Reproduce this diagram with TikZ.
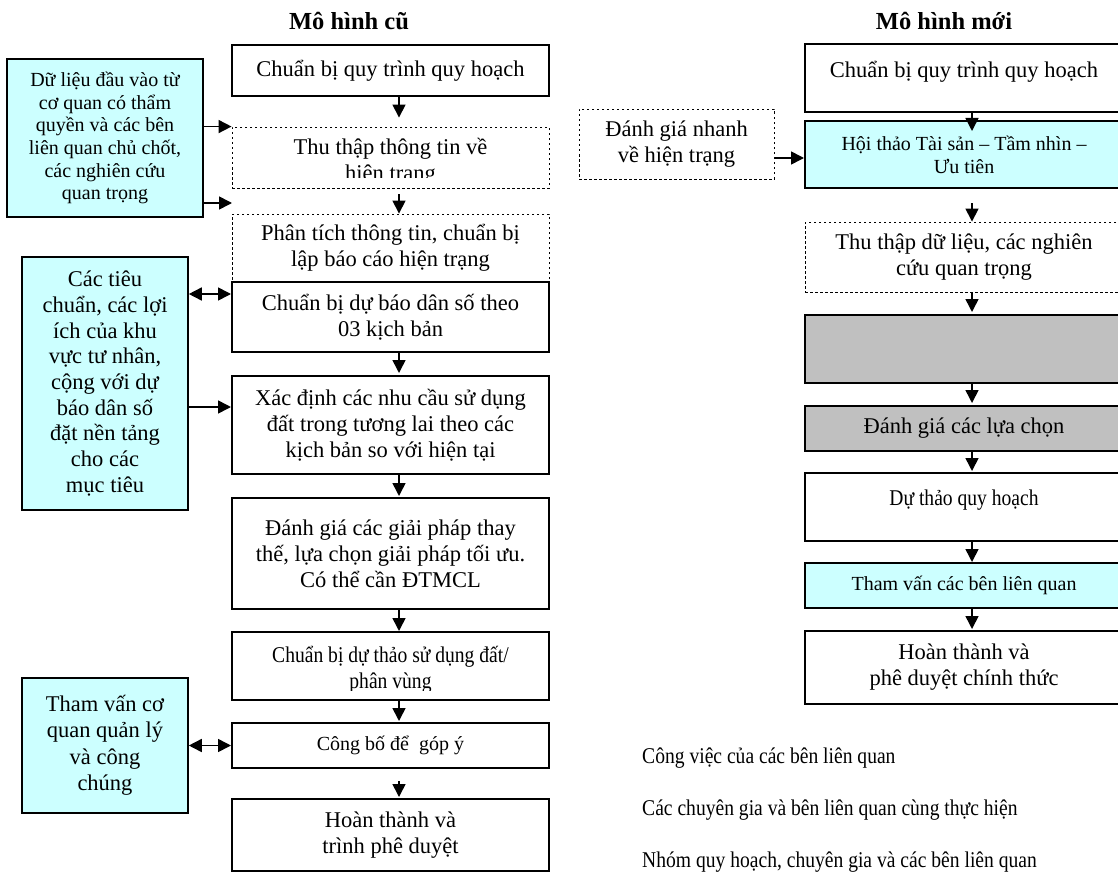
\documentclass[tikz,border=0pt]{standalone}
\usepackage{fontspec}
\setmainfont{Liberation Serif}
\newfontfamily\narrowserif[FakeStretch=0.87]{Liberation Serif}
\usetikzlibrary{arrows.meta}
\definecolor{paleblue}{HTML}{CCFFFF}
\definecolor{midgray}{HTML}{C0C0C0}
\begin{document}
\begin{tikzpicture}[x=1pt, y=-1pt, >={Triangle[width=13pt,length=13pt]}, font=\fontsize{22.5}{26}\selectfont]
		\tikzset{box/.style={draw, line width=2pt, align=center, inner sep=0pt, minimum width=317pt},
			dotbox/.style={box, line width=0.9pt, dash pattern=on 2.5pt off 2.5pt},
			blue box/.style={box, line width=1.6pt, fill=paleblue},
			gray box/.style={box, fill=midgray},
			small/.style={font=\fontsize{20}{23}\selectfont},
			narrow/.style={font=\narrowserif\fontsize{22.5}{26}\selectfont},
			boxtext/.style={align=center, inner sep=0pt},
			flow/.style={line width=1.6pt, ->}}
		\useasboundingbox (0,0) rectangle (1118,872);
		\node[font=\bfseries\fontsize{24.5}{28}\selectfont] (oldtitle) at (349,21) {Mô hình cũ};
		\node[font=\bfseries\fontsize{24.5}{28}\selectfont] (newtitle) at (944,21) {Mô hình mới};
		% old model
		\node[box, minimum height=51pt] (a1) at (390.5,70.5) {Chuẩn bị quy trình quy hoạch};
		\node[dotbox, minimum height=61pt] (a2) at (390.5,157.5) {};
		\begin{scope}
			\clip (232,127) rectangle (549,177);
			\node[boxtext] (a2text) at (390.5,162) {Thu thập thông tin về\\hiện trạng};
		\end{scope}
		\node[dotbox, minimum height=68pt] (a3) at (390.5,248) {Phân tích thông tin, chuẩn bị\\lập báo cáo hiện trạng};
		\node[box, fill=white, minimum height=70pt] (a4) at (390.5,317) {Chuẩn bị dự báo dân số theo\\03 kịch bản};
		\node[box, minimum height=98pt] (a5) at (390.5,425) {Xác định các nhu cầu sử dụng\\đất trong tương lai theo các\\kịch bản so với hiện tại};
		\node[box, minimum height=111pt] (a6) at (390.5,553.5) {Đánh giá các giải pháp thay\\thế, lựa chọn giải pháp tối ưu.\\Có thể cần ĐTMCL};
		\node[box, minimum height=68pt] (a7) at (390.5,666) {};
		\begin{scope}
			\clip (232,632) rectangle (549,690);
			\node[boxtext, narrow] (a7text) at (390.5,669.5) {Chuẩn bị dự thảo sử dụng đất/\\phân vùng};
		\end{scope}
		\node[box, small, minimum height=45pt] (a8) at (390.5,745.5) {Công bố để~ góp ý};
		\node[box, minimum height=72pt] (a9) at (390.5,835) {Hoàn thành và\\trình phê duyệt};
		\node[blue box, font=\fontsize{20}{22.7}\selectfont, minimum width=196pt, minimum height=158pt] (b1) at (105,138) {Dữ liệu đầu vào từ\\cơ quan có thẩm\\quyền và các bên\\liên quan chủ chốt,\\các nghiên cứu\\quan trọng};
		\node[blue box, font=\fontsize{22.5}{25.7}\selectfont, minimum width=166pt, minimum height=253pt] (b2) at (105,383.5) {Các tiêu\\chuẩn, các lợi\\ích của khu\\vực tư nhân,\\cộng với dự\\báo dân số\\đặt nền tảng\\cho các\\mục tiêu};
		\node[blue box, font=\fontsize{22.5}{26.5}\selectfont, minimum width=166pt, minimum height=135pt] (b3) at (105,745.5) {Tham vấn cơ\\quan quản lý\\và công\\chúng};
		\coordinate (ax) at (399,0);
		\coordinate (gap) at (232,203);
		\foreach \p/\q/\s/\e in {a1/a2/0/9, a2/a3/6/0, a4/a5/0/2, a5/a6/0/1, a6/a7/0/0, a7/a8/0/1, a8/a9/12/1}
		\draw[flow, shorten <=\s pt, shorten >=\e pt] (\p.south -| ax) -- (\q.north -| ax);
		\draw[flow] (b1.east |- a2.north) -- (a2.north west);
		\draw[flow] (b1.east |- gap) -- (gap);
		\draw[flow, <->] (b2.east |- 0,294) -- (a4.west |- 0,294);
		\draw[flow] (b2.east |- 0,407) -- (a5.west |- 0,407);
		\draw[flow, <->] (b3.east) -- (a8.west);
		% new model
		\node[box, minimum width=318pt, minimum height=68pt] (c1) at (964,78) {Chuẩn bị quy trình quy hoạch\\[-8pt]\mbox{}};
		\node[blue box, line width=2pt, small, minimum width=318pt, minimum height=67pt] (c2) at (964,154.5) {Hội thảo Tài sản – Tầm nhìn –\\Ưu tiên};
		\node[dotbox, minimum width=318pt, minimum height=70pt] (c3) at (964,257) {Thu thập dữ liệu, các nghiên\\cứu quan trọng};
		\node[gray box, minimum width=318pt, minimum height=68pt] (c4) at (964,349) {};
		\node[gray box, minimum width=318pt, minimum height=45pt] (c5) at (964,428.5) {Đánh giá các lựa chọn};
		\node[box, narrow, minimum width=318pt, minimum height=68pt] (c6) at (964,507) {Dự thảo quy hoạch\\[-8pt]\mbox{}};
		\node[blue box, line width=2pt, small, minimum width=318pt, minimum height=45pt] (c7) at (964,585.5) {Tham vấn các bên liên quan};
		\node[box, minimum width=318pt, minimum height=73pt] (c8) at (964,667.5) {Hoàn thành và\\phê duyệt chính thức};
		\node[dotbox, minimum width=195pt, minimum height=70pt] (d) at (676.5,144) {Đánh giá nhanh\\về hiện trạng};
		\coordinate (cx) at (972,0);
		\foreach \p/\q/\s/\e in {c1/c2/0/-11, c2/c3/14/0, c3/c4/0/2, c4/c5/0/2, c5/c6/0/1, c6/c7/0/0, c7/c8/0/1}
		\draw[flow, shorten <=\s pt, shorten >=\e pt] (\p.south -| cx) -- (\q.north -| cx);
		\draw[flow] (d.east |- 0,158) -- (c2.west |- 0,158);
		% legend texts
		\node[narrow, boxtext, anchor=west] (leg1) at (642,758) {Công việc của các bên liên quan};
		\node[narrow, boxtext, anchor=west] (leg2) at (642,810) {Các chuyên gia và bên liên quan cùng thực hiện};
		\node[narrow, boxtext, anchor=west] (leg3) at (642,862) {Nhóm quy hoạch, chuyên gia và các bên liên quan};
	\end{tikzpicture}
\end{document}
